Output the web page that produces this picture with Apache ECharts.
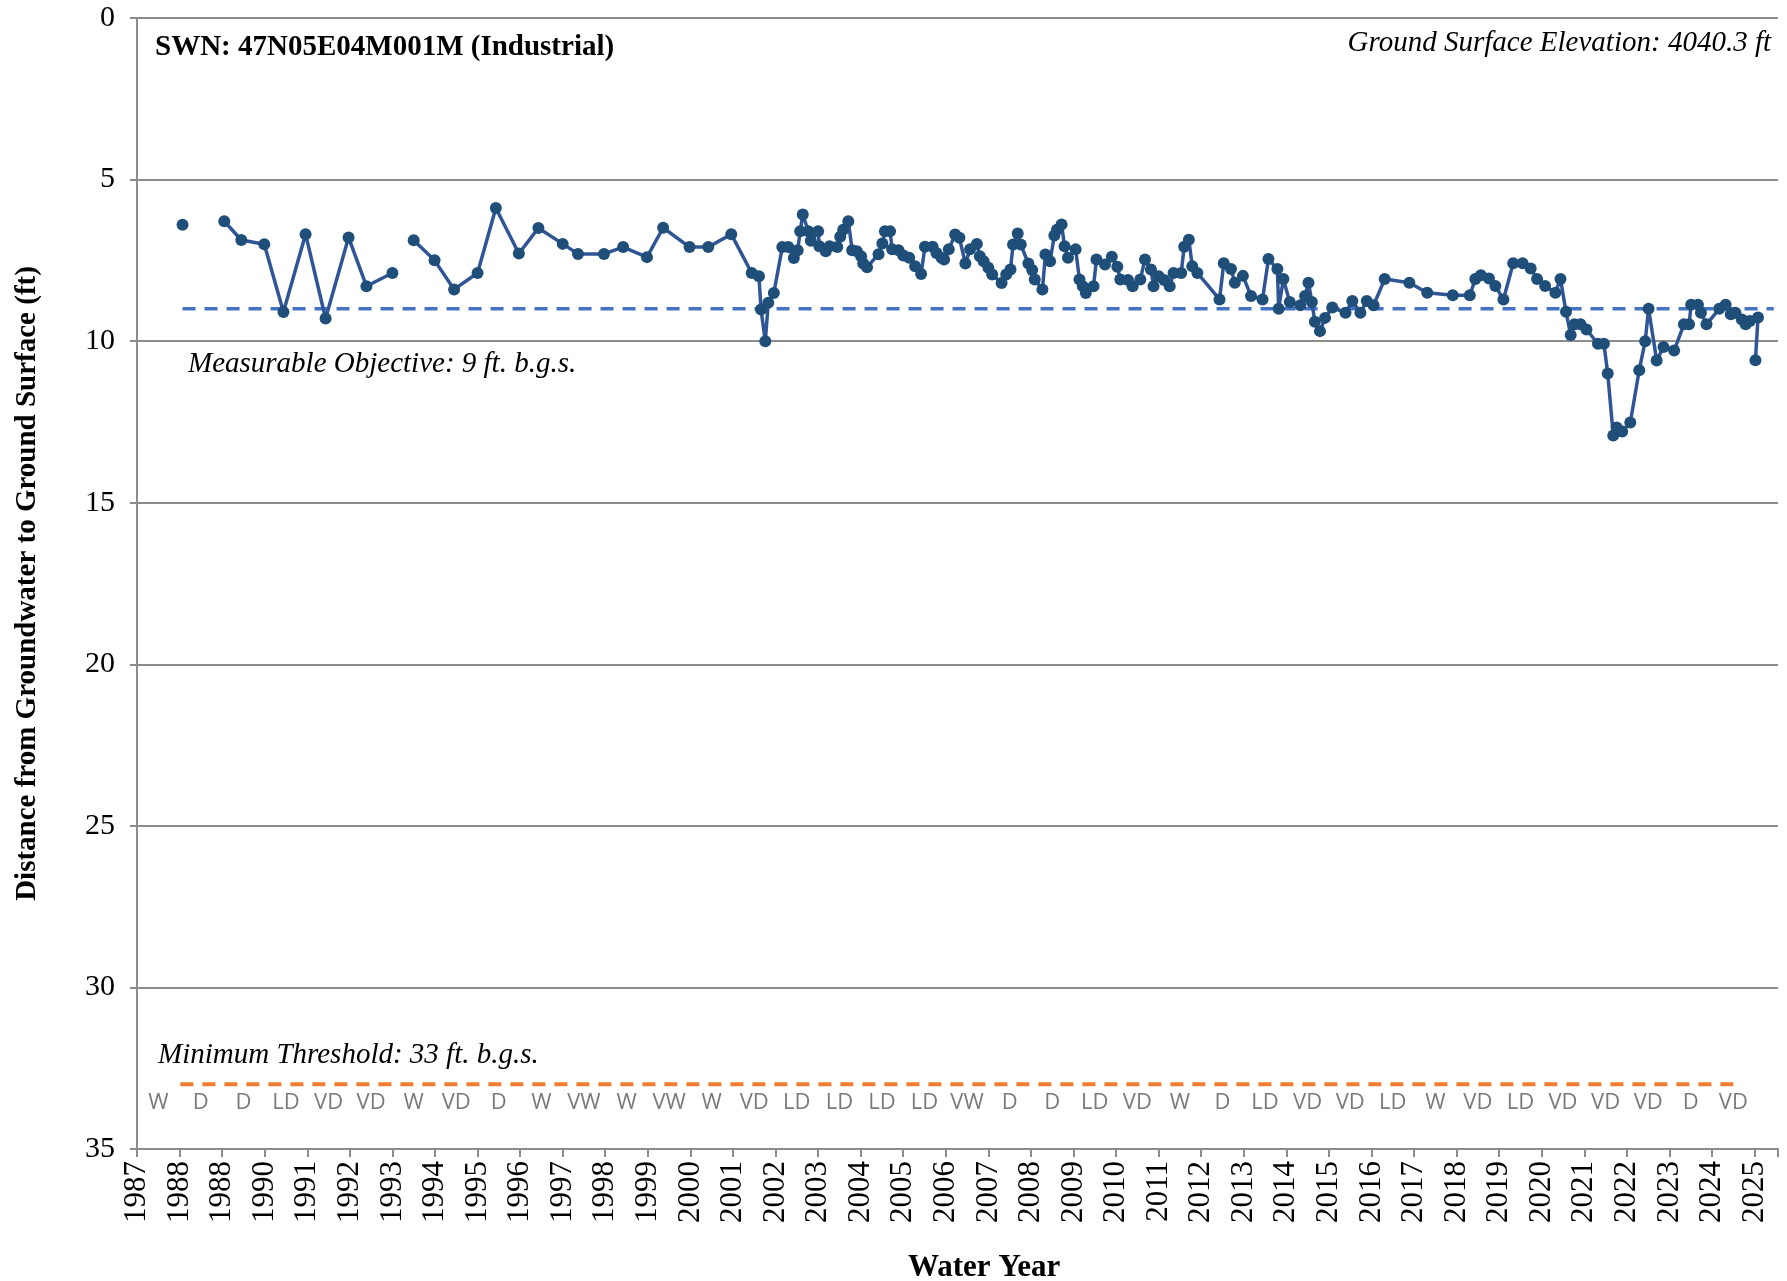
<!DOCTYPE html>
<html>
<head>
<meta charset="utf-8">
<title>SWN 47N05E04M001M</title>
<script src="https://cdn.jsdelivr.net/npm/echarts@6/dist/echarts.min.js"></script>
<style>
  html, body { margin: 0; padding: 0; background: #fff; }
  #chart { width: 1787px; height: 1281px; }
</style>
</head>
<body>
<div id="chart"></div>
<script>
// measurement dates (decimal year) and depth to water (ft b.g.s.); null = gap
const years = [
  1988.07, 1988.5,
  1989.05, 1989.45, 1989.99, 1990.44, 1990.96, 1991.43, 1991.97, 1992.39, 1993.00, 1993.25,
  1993.50, 1993.99, 1994.45, 1995.00, 1995.43, 1995.97, 1996.43, 1997.00, 1997.36, 1997.97,
  1998.42, 1998.98, 1999.36, 1999.98, 2000.42, 2000.96, 2001.44, 2001.61, 2001.66, 2001.76,
  2001.83, 2001.96, 2002.16, 2002.30, 2002.43, 2002.52, 2002.58, 2002.64, 2002.77, 2002.83,
  2003.00, 2003.03, 2003.18, 2003.27, 2003.45, 2003.52, 2003.59, 2003.71, 2003.80, 2003.91,
  2004.01, 2004.06, 2004.15, 2004.42, 2004.51, 2004.57, 2004.69, 2004.74, 2004.89, 2005.00,
  2005.14, 2005.28, 2005.42, 2005.51, 2005.69, 2005.78, 2005.90, 2005.96, 2006.07, 2006.22,
  2006.32, 2006.46, 2006.57, 2006.73, 2006.80, 2006.89, 2007.00, 2007.09, 2007.31, 2007.42,
  2007.52, 2007.58, 2007.69, 2007.76, 2007.94, 2008.03, 2008.09, 2008.27, 2008.34, 2008.45,
  2008.55, 2008.61, 2008.72, 2008.79, 2008.87, 2009.05, 2009.14, 2009.22, 2009.29, 2009.47,
  2009.54, 2009.74, 2009.90, 2010.03, 2010.10, 2010.28, 2010.39, 2010.57, 2010.68, 2010.82,
  2010.88, 2011.00, 2011.13, 2011.26, 2011.35, 2011.53, 2011.60, 2011.71, 2011.79, 2011.91,
  2012.43, 2012.53, 2012.70, 2012.79, 2012.98, 2013.17, 2013.44, 2013.58, 2013.79, 2013.82,
  2013.93, 2014.08, 2014.33, 2014.44, 2014.52, 2014.60, 2014.67, 2014.79, 2014.91, 2015.08,
  2015.39, 2015.55, 2015.74, 2015.89, 2016.05, 2016.31, 2016.89, 2017.31, 2017.91, 2018.31,
  2018.44, 2018.57, 2018.76, 2018.91, 2019.10, 2019.33, 2019.55, 2019.74, 2019.89, 2020.08,
  2020.32, 2020.44, 2020.57, 2020.68, 2020.77, 2020.91, 2021.05, 2021.32, 2021.46, 2021.55,
  2021.68, 2021.76, 2021.89, 2022.08, 2022.29, 2022.43, 2022.51, 2022.70, 2022.86, 2023.11,
  2023.34, 2023.46, 2023.51, 2023.67, 2023.74, 2023.87, 2024.17, 2024.32, 2024.44, 2024.55,
  2024.70, 2024.79, 2024.89, 2025.08, 2025.02
];
const depths = [
  6.40, null,
  6.29, 6.87, 7.00, 9.10, 6.69, 9.30, 6.79, 8.30, 7.89, null,
  6.88, 7.50, 8.40, 7.89, 5.88, 7.29, 6.50, 6.99, 7.30, 7.30,
  7.09, 7.40, 6.49, 7.09, 7.09, 6.69, 7.89, 7.99, 9.02, 10.00,
  8.81, 8.51, 7.09, 7.09, 7.43, 7.19, 6.60, 6.08, 6.60, 6.89,
  6.60, 7.06, 7.22, 7.06, 7.09, 6.77, 6.55, 6.29, 7.19, 7.22,
  7.37, 7.60, 7.71, 7.31, 6.98, 6.60, 6.60, 7.16, 7.19, 7.35,
  7.42, 7.68, 7.92, 7.08, 7.08, 7.27, 7.42, 7.47, 7.16, 6.70,
  6.80, 7.60, 7.16, 6.99, 7.37, 7.53, 7.73, 7.94, 8.20, 7.94,
  7.78, 7.01, 6.67, 7.01, 7.60, 7.80, 8.09, 8.40, 7.32, 7.53,
  6.73, 6.55, 6.39, 7.06, 7.42, 7.16, 8.09, 8.30, 8.51, 8.30,
  7.47, 7.63, 7.39, 7.70, 8.09, 8.11, 8.30, 8.09, 7.47, 7.78,
  8.30, 7.99, 8.11, 8.30, 7.89, 7.89, 7.08, 6.86, 7.68, 7.89,
  8.71, 7.59, 7.77, 8.19, 7.98, 8.60, 8.71, 7.46, 7.77, 9.00,
  8.08, 8.79, 8.89, 8.60, 8.19, 8.79, 9.40, 9.69, 9.28, 8.96,
  9.12, 8.76, 9.12, 8.76, 8.89, 8.08, 8.19, 8.50, 8.58, 8.58,
  8.08, 7.96, 8.06, 8.29, 8.71, 7.59, 7.59, 7.75, 8.08, 8.29,
  8.50, 8.08, 9.09, 9.81, 9.48, 9.48, 9.64, 10.08, 10.08, 11.00,
  12.92, 12.67, 12.80, 12.52, 10.90, 10.00, 9.00, 10.60, 10.18, 10.29,
  9.48, 9.48, 8.87, 8.87, 9.12, 9.48, 9.00, 8.87, 9.17, 9.12,
  9.33, 9.48, 9.38, 9.27, 10.59
];

// x tick labels, one per year tick from 1987
const tickLabels = [
  '1987', '1988', '1988', '1990', '1991', '1992', '1993', '1994', '1995', '1996',
  '1997', '1998', '1999', '2000', '2001', '2002', '2003', '2004', '2005', '2006',
  '2007', '2008', '2009', '2010', '2011', '2012', '2013', '2014', '2015', '2016',
  '2017', '2018', '2019', '2020', '2021', '2022', '2023', '2024', '2025'
];

// water year type for each year interval
const yearTypes = [
  'W', 'D', 'D', 'LD', 'VD', 'VD', 'W', 'VD', 'D', 'W', 'VW', 'W', 'VW', 'W', 'VD', 'LD', 'LD', 'LD', 'LD',
  'VW', 'D', 'D', 'LD', 'VD', 'W', 'D', 'LD', 'VD', 'VD', 'LD', 'W', 'VD', 'LD', 'VD', 'VD', 'VD', 'D', 'VD'
];

const measurableObjective = 9;
const minimumThreshold = 33;

const serif = 'Liberation Serif';
const firstYear = 1987;

const levelData = years.map((y, i) => [y, depths[i]]);
const typeData = yearTypes.map((t, i) => [firstYear + i + 0.5, 33.5]);

const chart = echarts.init(document.getElementById('chart'));
chart.setOption({
  animation: false,
  backgroundColor: '#fff',
  textStyle: { fontFamily: serif },
  grid: { left: 137, right: 9, top: 18, bottom: 132, containLabel: false },
  xAxis: {
    type: 'value',
    min: 1987,
    max: 2025.55,
    interval: 1,
    axisLine: { show: true, onZero: false, lineStyle: { color: '#8c8c8c', width: 2 } },
    axisTick: { show: true, length: 8, lineStyle: { color: '#8c8c8c', width: 2 } },
    splitLine: { show: false },
    axisLabel: {
      rotate: 90,
      margin: 12,
      color: '#000',
      fontFamily: serif,
      fontSize: 31,
      formatter: function (v) {
        const k = Math.round(v - firstYear);
        if (Math.abs(v - firstYear - k) > 1e-6) return '';
        return tickLabels[k] || '';
      }
    }
  },
  yAxis: {
    type: 'value',
    inverse: true,
    min: 0,
    max: 35,
    interval: 5,
    name: 'Distance from Groundwater to Ground Surface (ft)',
    nameLocation: 'middle',
    nameGap: 95,
    nameTextStyle: { fontFamily: serif, fontWeight: 'bold', fontSize: 29, color: '#000' },
    axisLine: { show: true, lineStyle: { color: '#8c8c8c', width: 2 } },
    axisTick: { show: true, length: 7, lineStyle: { color: '#8c8c8c', width: 2 } },
    splitLine: { show: true, lineStyle: { color: '#8c8c8c', width: 2 } },
    axisLabel: { color: '#000', fontFamily: serif, fontSize: 30, margin: 22 }
  },
  series: [
    {
      name: 'Measurable Objective',
      type: 'line',
      data: [[1988.07, measurableObjective], [2025.45, measurableObjective]],
      symbol: 'none',
      lineStyle: { color: '#4472C4', width: 3.5, type: [13, 9] },
      z: 2
    },
    {
      name: 'Minimum Threshold',
      type: 'line',
      data: [[1988.02, minimumThreshold], [2024.6, minimumThreshold]],
      symbol: 'none',
      lineStyle: { color: '#ED7D31', width: 4, type: [13, 9] },
      z: 2
    },
    {
      name: 'Depth to Water',
      type: 'line',
      data: levelData,
      connectNulls: false,
      symbol: 'circle',
      symbolSize: 12,
      showAllSymbol: true,
      lineStyle: { color: '#2F5597', width: 3.5 },
      itemStyle: { color: '#1F4E79' },
      z: 3
    },
    {
      name: 'Water Year Type',
      type: 'scatter',
      data: typeData,
      symbolSize: 0,
      silent: true,
      label: {
        show: true,
        position: 'inside',
        offset: [0, 2],
        color: '#595959',
        fontFamily: 'Liberation Sans Narrow, Open Sans, sans-serif',
        fontSize: 22,
        formatter: function (p) { return yearTypes[p.dataIndex]; }
      }
    }
  ],
  graphic: [
    {
      type: 'text', left: 155, top: 33,
      style: { text: 'SWN: 47N05E04M001M (Industrial)', font: 'bold 29px ' + serif, fill: '#000' }
    },
    {
      type: 'text', right: 16, top: 29,
      style: { text: 'Ground Surface Elevation: 4040.3 ft', font: 'italic 29px ' + serif, fill: '#000' }
    },
    {
      type: 'text', left: 188, top: 350,
      style: { text: 'Measurable Objective: 9 ft. b.g.s.', font: 'italic 29px ' + serif, fill: '#000' }
    },
    {
      type: 'text', left: 158, top: 1041,
      style: { text: 'Minimum Threshold: 33 ft. b.g.s.', font: 'italic 29px ' + serif, fill: '#000' }
    },
    {
      type: 'text', left: 908, top: 1252,
      style: { text: 'Water Year', font: 'bold 31px ' + serif, fill: '#000' }
    }
  ]
});
</script>
</body>
</html>
